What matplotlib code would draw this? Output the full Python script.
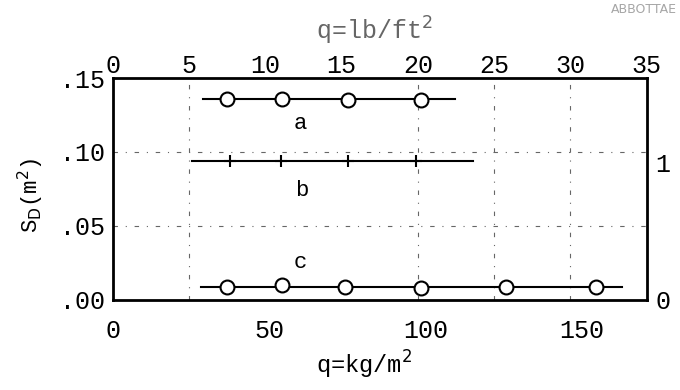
import matplotlib.pyplot as plt
import numpy as np

# values (q in lb/ft^2, S_D in m^2)
q_a = [7.5, 11.1, 15.4, 20.2]
s_a = [0.136, 0.136, 0.135, 0.135]
line_a = [5.9, 22.4]

q_b = [7.7, 11.0, 15.4, 19.9]
s_b = [0.094, 0.094, 0.094, 0.094]
line_b = [5.2, 23.6]

q_c = [7.5, 11.1, 15.2, 20.2, 25.8, 31.7]
s_c = [0.009, 0.010, 0.009, 0.008, 0.009, 0.009]
line_c = [5.8, 33.4]

top_ticks = [0, 5, 10, 15, 20, 25, 30, 35]
bottom_ticks = [0, 50, 100, 150]
y_ticks = [0.0, 0.05, 0.10, 0.15]
y_labels = [".00", ".05", ".10", ".15"]
right_ticks = [0, 1]
grid_q = [5, 20, 25, 30]
grid_s = [0.05, 0.10]

LB_TO_KG = 4.882
FT2_TO_M2 = 0.0929

plt.rcParams["font.family"] = ["Liberation Mono", "DejaVu Sans Mono"]

fig = plt.figure(figsize=(6.8, 3.9), dpi=100)
ax = fig.add_axes([0.166, 0.231, 0.785, 0.569])

ax.set_xlim(0, 35)
ax.set_ylim(0, 0.15)

# faint dash-dot grid like the original graph paper
for x in grid_q:
    ax.axvline(x, color="0.4", lw=0.8, ls=(0, (4, 7, 1, 7)), zorder=1)
for y in grid_s:
    ax.axhline(y, color="0.4", lw=0.8, ls=(0, (4, 7, 1, 7)), zorder=1)

# faired lines through each series
ax.plot(line_a, [np.mean(s_a)] * 2, color="black", lw=1.5, zorder=2)
ax.plot(line_b, [np.mean(s_b)] * 2, color="black", lw=1.5, zorder=2)
ax.plot(line_c, [np.mean(s_c)] * 2, color="black", lw=1.5, zorder=2)

ax.plot(q_a, s_a, "o", ms=10, mfc="white", mec="black", mew=1.5, zorder=3)
ax.plot(q_b, s_b, "+", ms=8, mec="black", mew=1.5, zorder=3)
ax.plot(q_c, s_c, "o", ms=10, mfc="white", mec="black", mew=1.5, zorder=3)

ax.text(12.3, 0.119, "a", fontsize=16, ha="center", va="center")
ax.text(12.4, 0.074, "b", fontsize=16, ha="center", va="center")
ax.text(12.3, 0.025, "c", fontsize=16, ha="center", va="center")

for sp in ax.spines.values():
    sp.set_linewidth(2.0)

# top axis: lb/ft^2
ax.xaxis.tick_top()
ax.set_xticks(top_ticks)
ax.set_xticklabels([str(t) for t in top_ticks])
ax.tick_params(axis="x", length=0, pad=0, labelsize=18)
ax.set_yticks(y_ticks)
ax.set_yticklabels(y_labels)
ax.tick_params(axis="y", length=0, pad=6, labelsize=18)

# bottom axis: kg/m^2
bx = ax.secondary_xaxis("bottom", functions=(lambda x: x * LB_TO_KG, lambda x: x / LB_TO_KG))
bx.set_xticks(bottom_ticks)
bx.tick_params(length=0, pad=14, labelsize=18)
bx.spines["bottom"].set_visible(False)
bx.set_xlabel("q=kg/m$^2$", fontsize=17, labelpad=4, x=0.47)

# right axis: ft^2
ry = ax.secondary_yaxis("right", functions=(lambda y: y / FT2_TO_M2, lambda y: y * FT2_TO_M2))
ry.set_yticks(right_ticks)
ry.tick_params(length=0, pad=6, labelsize=18)
ry.spines["right"].set_visible(False)

fig.text(0.55, 0.92, "q=lb/ft$^2$", fontsize=18, ha="center", va="center", color="0.4")
fig.text(0.045, 0.5, "S$_\\mathrm{D}$(m$^2$)", fontsize=16, rotation=90, ha="center", va="center")
fig.text(0.995, 0.975, "ABBOTTAE", fontsize=9, ha="right", va="center", color="0.65", family="DejaVu Sans")

fig.savefig("out.png", dpi=100)
